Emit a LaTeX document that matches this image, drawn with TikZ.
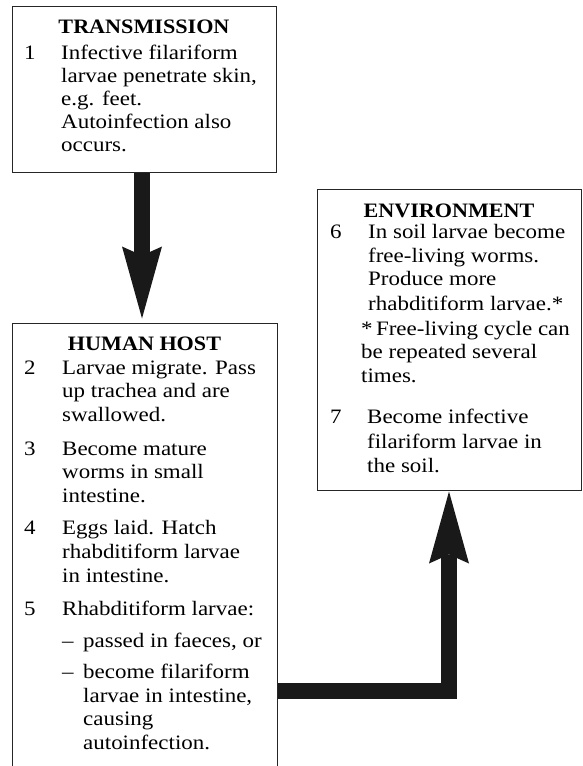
\documentclass[tikz,border=0pt]{standalone}
\usepackage{fontspec}
\setmainfont[FakeStretch=1.12,BoldFeatures={FakeStretch=1.08}]{Liberation Serif}
\usetikzlibrary{arrows.meta}
\begin{document}
\begin{tikzpicture}[x=1pt,y=-1pt,
  box/.style={draw=black!85, line width=1pt, rectangle, inner sep=0pt},
  txt/.style={anchor=base west, inner sep=0pt, font=\fontsize{20.5}{23}\selectfont},
  ttl/.style={anchor=base, inner sep=0pt, font=\fontsize{20.5}{23}\selectfont\bfseries},
  bigarrow/.style={line width=16pt, black!90, line join=miter,
    -{Stealth[length=72pt, width=40pt, inset=9pt, line width=0pt]}}]
\useasboundingbox (0,0) rectangle (582,766);

% boxes
\node[box, minimum width=264pt, minimum height=166pt] (trans) at (144,89) {};
\node[box, minimum width=265pt, minimum height=477pt] (host) at (144.5,561.5) {};
\node[box, minimum width=264pt, minimum height=301pt] (env) at (449,339.5) {};

% transmission text
\node[ttl] (t0) at (144,33) {TRANSMISSION};
\node[txt] (t1n) at (24,59) {1};
\foreach \y/\s [count=\i] in {59/{Infective filariform},82/{larvae penetrate skin,},105/{e.g. feet.},128/{Autoinfection also},151/{occurs.}}
  \node[txt] (t1l\i) at (61,\y) {\s};

% human host text
\node[ttl] (h0) at (144.5,350) {HUMAN HOST};
\node[txt] (h2n) at (24,374) {2};
\node[txt] (h3n) at (24,455) {3};
\node[txt] (h4n) at (24,534) {4};
\node[txt] (h5n) at (24,615) {5};
\foreach \y/\s [count=\i] in {374/{Larvae migrate. Pass},397/{up trachea and are},421/{swallowed.},
  455/{Become mature},478/{worms in small},502/{intestine.},
  534/{Eggs laid. Hatch},558/{rhabditiform larvae},582/{in intestine.},
  615/{Rhabditiform larvae:}}
  \node[txt] (hl\i) at (62,\y) {\s};
\node[txt] (hd1) at (62,647) {--};
\node[txt] (hd2) at (62,678) {--};
\foreach \y/\s [count=\i] in {647/{passed in faeces, or},678/{become filariform},702/{larvae in intestine,},725/{causing},749/{autoinfection.}}
  \node[txt] (hs\i) at (83,\y) {\s};

% environment text
\node[ttl] (e0) at (449,217) {ENVIRONMENT};
\node[txt] (e6n) at (330,238) {6};
\node[txt] (e7n) at (330,423) {7};
\foreach \y/\s [count=\i] in {238/{In soil larvae become},262/{free-living worms.},285/{Produce more},310/{rhabditiform larvae.*}}
  \node[txt] (el\i) at (368,\y) {\s};
\foreach \y/\s [count=\i] in {335/{*\,Free-living cycle can},358/{be repeated several},382/{times.}}
  \node[txt] (ef\i) at (361,\y) {\s};
\foreach \y/\s [count=\i] in {423/{Become infective},448/{filariform larvae in},472/{the soil.}}
  \node[txt] (em\i) at (367,\y) {\s};

% connectors
\draw[bigarrow, shorten >=4pt] ([xshift=-2pt]trans.south) -- ([xshift=-2.5pt]host.north);
\coordinate (elb) at (449,690.5);
\draw[bigarrow, shorten >=1pt] (elb -| host.east) -- (elb) -- (env.south);
\end{tikzpicture}
\end{document}
